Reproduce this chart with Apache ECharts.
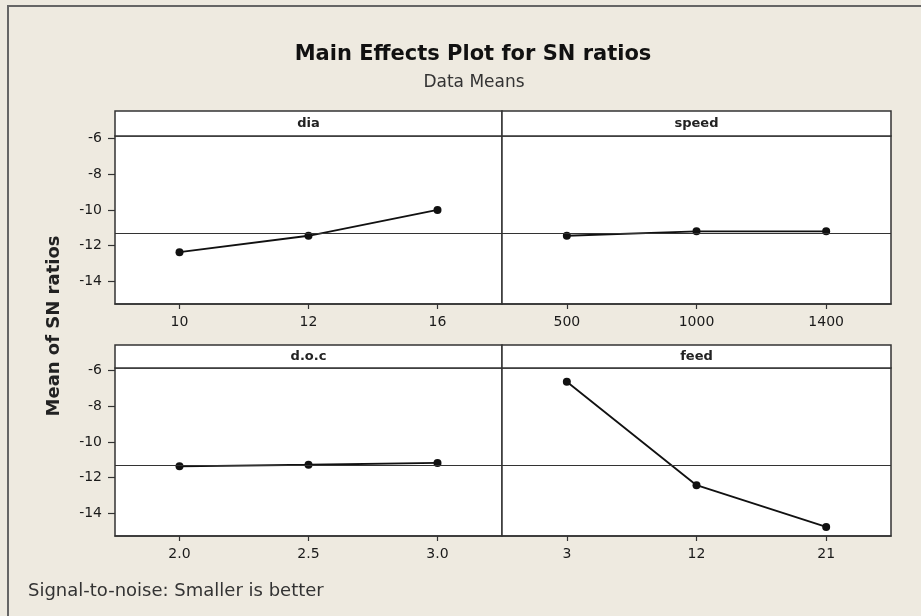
<!DOCTYPE html>
<html><head><meta charset="utf-8">
<script src="https://cdn.jsdelivr.net/npm/echarts@6/dist/echarts.min.js"></script>
<style>html,body{margin:0;padding:0;background:#EEEAE0}#c{width:921px;height:616px}</style>
</head><body><div id="c"></div>
<script>
const panelNames = ['dia', 'speed', 'd.o.c', 'feed'];
const diaLevels = ['10', '12', '16'];
const diaMeans = [-12.37, -11.45, -10.0];
const speedLevels = ['500', '1000', '1400'];
const speedMeans = [-11.45, -11.2, -11.2];
const docLevels = ['2.0', '2.5', '3.0'];
const docMeans = [-11.37, -11.28, -11.18];
const feedLevels = ['3', '12', '21'];
const feedMeans = [-6.62, -12.43, -14.77];
const overallMean = -11.3;
const yTickValues = [-14, -12, -10, -8, -6];
const titleText = 'Main Effects Plot for SN ratios';
const subtitleText = 'Data Means';
const yAxisTitle = 'Mean of SN ratios';
const footnote = 'Signal-to-noise: Smaller is better';

const FONT = 'DejaVu Sans';
const levels = [diaLevels, speedLevels, docLevels, feedLevels];
const means = [diaMeans, speedMeans, docMeans, feedMeans];
const layout = [
  {left: 115, top: 136, width: 387, height: 168, stripTop: 111, stripH: 25},
  {left: 502, top: 136, width: 389, height: 168, stripTop: 111, stripH: 25},
  {left: 115, top: 368, width: 387, height: 168, stripTop: 345, stripH: 23},
  {left: 502, top: 368, width: 389, height: 168, stripTop: 345, stripH: 23}
];

const chart = echarts.init(document.getElementById('c'), null, {renderer: 'canvas'});

const grids = layout.map(l => ({
  left: l.left, top: l.top, width: l.width, height: l.height,
  show: true, backgroundColor: '#ffffff', borderColor: '#333333', borderWidth: 1.5,
  containLabel: false
}));

const xAxes = levels.map((lv, i) => ({
  gridIndex: i, type: 'category', data: lv, boundaryGap: true,
  axisLine: {show: true, lineStyle: {color: '#333333', width: 1.5}},
  axisTick: {show: true, alignWithLabel: true, length: 5, lineStyle: {color: '#333333', width: 1.2}},
  axisLabel: {margin: 11, fontSize: 14, color: '#1a1a1a', fontFamily: FONT},
  splitLine: {show: false}
}));

const yAxes = levels.map((lv, i) => ({
  gridIndex: i, type: 'value', min: -15.28, max: -5.85,
  axisLine: {show: false},
  axisTick: {show: i % 2 === 0, length: 7, customValues: yTickValues, lineStyle: {color: '#333333', width: 1.2}},
  axisLabel: {show: i % 2 === 0, customValues: yTickValues, margin: 13, fontSize: 14, color: '#1a1a1a', fontFamily: FONT},
  splitLine: {show: false}
}));

const series = means.map((m, i) => ({
  type: 'line', xAxisIndex: i, yAxisIndex: i, data: m,
  symbol: 'circle', symbolSize: 8, showSymbol: true,
  lineStyle: {color: '#111111', width: 1.8},
  itemStyle: {color: '#111111'},
  markLine: {
    silent: true, symbol: 'none', animation: false,
    label: {show: false},
    lineStyle: {color: '#333333', width: 1.2, type: 'solid'},
    data: [{yAxis: overallMean}]
  },
  z: 3
}));

const graphics = [];
graphics.push({type: 'rect', shape: {x: 8, y: 6, width: 1000, height: 1000}, style: {fill: 'none', stroke: '#666666', lineWidth: 2}, silent: true, z: 0});
layout.forEach((l, i) => {
  graphics.push({type: 'rect', shape: {x: l.left, y: l.stripTop, width: l.width, height: l.stripH},
    style: {fill: '#ffffff', stroke: '#333333', lineWidth: 1.5}, silent: true, z: 5});
  graphics.push({type: 'text', x: l.left + l.width / 2, y: l.stripTop + l.stripH / 2,
    style: {text: panelNames[i], font: 'bold 13px ' + FONT, fill: '#222222', align: 'center', verticalAlign: 'middle'}, silent: true, z: 6});
});
graphics.push({type: 'text', x: 54, y: 326, rotation: Math.PI / 2,
  style: {text: yAxisTitle, font: 'bold 18px ' + FONT, fill: '#222222', align: 'center', verticalAlign: 'middle'}, silent: true, z: 6});
graphics.push({type: 'text', x: 28, y: 591,
  style: {text: footnote, font: '18px ' + FONT, fill: '#333333', align: 'left', verticalAlign: 'middle'}, silent: true, z: 6});

chart.setOption({
  backgroundColor: '#EEEAE0',
  animation: false,
  title: [
    {text: titleText, left: 468, top: 39, textAlign: 'center',
     textStyle: {fontSize: 21, fontWeight: 'bold', color: '#111111', fontFamily: FONT}},
    {text: subtitleText, left: 469, top: 69, textAlign: 'center',
     textStyle: {fontSize: 17, fontWeight: 'normal', color: '#333333', fontFamily: FONT}}
  ],
  grid: grids,
  xAxis: xAxes,
  yAxis: yAxes,
  series: series,
  graphic: graphics
});
</script>
</body></html>
